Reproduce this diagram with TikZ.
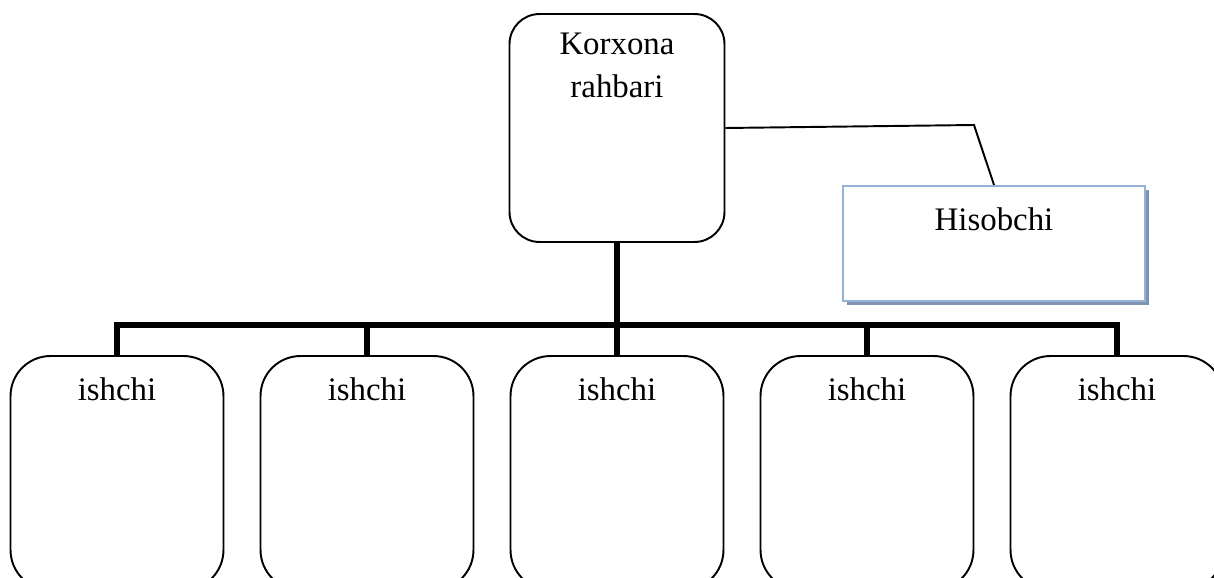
\documentclass[tikz,border=0pt]{standalone}
\usepackage{fontspec}
\setmainfont{Liberation Serif}
\usetikzlibrary{positioning, shadows}
\definecolor{boxblue}{RGB}{149,179,215}
\definecolor{shadowblue}{RGB}{128,148,176}

\begin{document}
\begin{tikzpicture}[x=0.02cm, y=-0.02cm,
        every node/.style={font=\fontsize{18.7}{24.4}\selectfont},
        headbox/.style={draw, line width=1.1pt, rounded corners=0.6cm, minimum width=4.3cm, minimum height=4.56cm},
        workbox/.style={draw, line width=1.1pt, rounded corners=0.8cm, minimum width=4.26cm, minimum height=4.68cm},
        hisobbox/.style={draw=boxblue, line width=1.2pt, fill=white, minimum width=6.04cm, minimum height=2.3cm,
            drop shadow={shadow xshift=0.08cm, shadow yshift=-0.08cm, fill=shadowblue, opacity=1}},
        toptext/.style={anchor=north, inner sep=0pt, align=center, yshift=#1},
        link/.style={line width=1.1pt},
        bus/.style={line width=3.1pt}]
        \useasboundingbox (0,0) rectangle (1214,578);
        \clip (0,0) rectangle (1214,578);

        \node[headbox] (rahbar) at (617,128) {}; %head
        \node[toptext=-0.4cm] (rahbartxt) at (rahbar.north) {Korxona\\rahbari};
        \node[hisobbox] (hisobchi) at (994,243.5) {}; %accountant
        \node[toptext=-0.44cm] (hisobtxt) at (hisobchi.north) {Hisobchi};

        \foreach \i/\x in {1/117, 2/367, 3/617, 4/867, 5/1117} {
            \node[workbox] (ishchi\i) at (\x,473) {}; %worker
            \node[toptext=-0.44cm] (ishchitxt\i) at (ishchi\i.north) {ishchi};
        }

        \coordinate (knee) at (974,125);
        \coordinate (bus) at (617,325);
        \draw[link] (rahbar.east) -- (knee) -- (hisobchi.north);
        \draw[bus] (rahbar.south) -- (bus);
        \draw[bus] (ishchi1.north) |- (bus) -| (ishchi5.north);
        \foreach \i in {2,3,4}
            \draw[bus] (ishchi\i.north) -- (ishchi\i.north |- bus);
\end{tikzpicture}
\end{document}
